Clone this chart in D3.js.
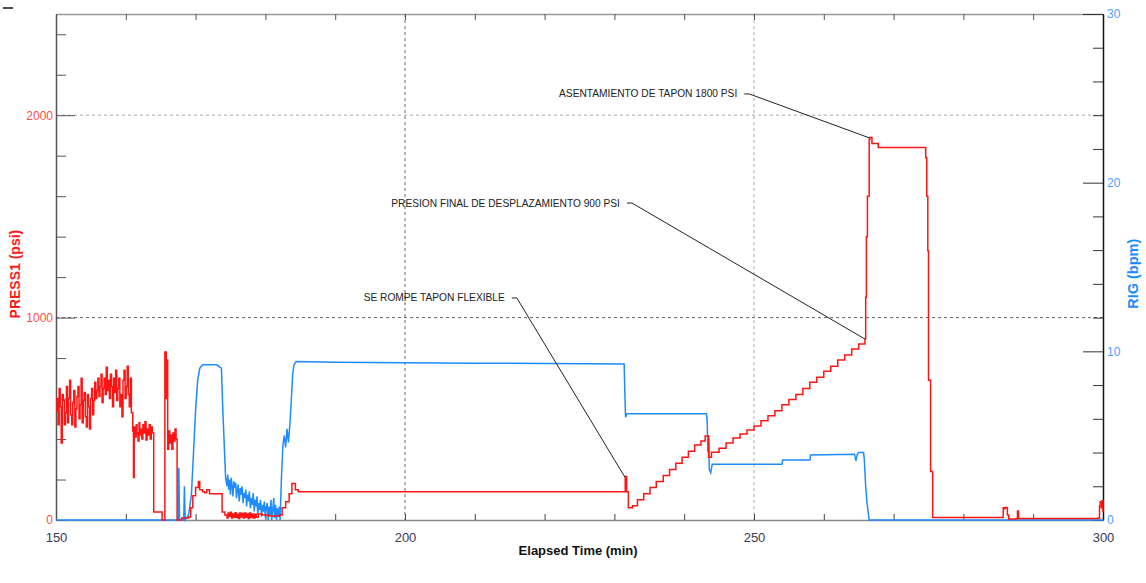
<!DOCTYPE html>
<html>
<head>
<meta charset="utf-8">
<script src="https://cdn.jsdelivr.net/npm/d3@7"></script>
<style>
  body { margin: 0; background: #fff; }
  svg { display: block; font-family: "Liberation Sans", Arial, sans-serif; }
</style>
</head>
<body>
<div class="chart"></div>
<script>

/** PRESS1 (psi) readings: [elapsed min, psi] */
let pressNoisy = [
  [150.00, 540], [150.15, 600], [150.30, 470], [150.45, 650], [150.60, 560], [150.75, 380], [150.90, 620], [151.05, 590],
  [151.20, 470], [151.35, 530], [151.50, 660], [151.65, 480], [151.80, 600], [151.95, 690], [152.10, 520], [152.25, 470],
  [152.40, 580], [152.55, 640], [152.70, 460], [152.85, 550], [153.00, 610], [153.15, 660], [153.30, 500], [153.45, 570],
  [153.60, 700], [153.75, 480], [153.90, 590], [154.05, 630], [154.20, 510], [154.35, 460], [154.50, 620], [154.65, 560],
  [154.80, 450], [154.95, 600], [155.10, 650], [155.25, 520], [155.40, 590], [155.55, 680], [155.70, 600], [155.85, 640],
  [156.00, 700], [156.15, 610], [156.30, 660], [156.45, 720], [156.60, 580], [156.75, 650], [156.90, 700], [157.05, 620],
  [157.20, 755], [157.35, 640], [157.50, 690], [157.65, 600], [157.80, 720], [157.95, 660], [158.10, 560], [158.25, 700],
  [158.40, 630], [158.55, 740], [158.70, 590], [158.85, 650], [159.00, 700], [159.15, 560], [159.30, 620], [159.45, 510],
  [159.60, 690], [159.75, 740], [159.90, 600], [160.05, 660], [160.20, 760], [160.35, 620], [160.50, 560], [160.65, 700],
  [160.80, 530]
];
let pressDrop = [
  [161.0, 440], [161.1, 210], [161.2, 460], [161.35, 410], [161.5, 470], [161.6, 430], [161.75, 390], [161.9, 480],
  [162.0, 420], [162.15, 450], [162.3, 400], [162.45, 470], [162.6, 430], [162.75, 485], [162.9, 395], [163.05, 450],
  [163.2, 420], [163.35, 470], [163.5, 400], [163.65, 460], [163.8, 430], [164.0, 40], [165.2, 0], [165.6, 830],
  [165.8, 600], [165.95, 790], [166.0, 350], [166.15, 440], [166.3, 380], [166.45, 420], [166.6, 350], [166.75, 430],
  [166.9, 390], [167.05, 450], [167.2, 400], [167.35, 0], [168.0, 10], [169.0, 15], [169.3, 60], [169.6, 120],
  [170.0, 160], [170.4, 190], [170.6, 150], [171.0, 140], [171.3, 135], [171.6, 150], [172.0, 130], [173.8, 40],
  [174.2, 25], [174.5, 10], [174.65, 35], [174.8, 18], [175.0, 38], [175.15, 10], [175.3, 30], [175.5, 14],
  [175.65, 36], [175.8, 12], [176.0, 28], [176.15, 8], [176.3, 35], [176.5, 15], [176.7, 32], [176.85, 10],
  [177.0, 34], [177.2, 14], [177.35, 30], [177.55, 8], [177.7, 35], [177.9, 12], [178.1, 30], [178.3, 10],
  [178.5, 28], [178.7, 14], [179.0, 30], [179.5, 25], [180.5, 20], [182.0, 25], [182.4, 60], [182.9, 90],
  [183.4, 130], [183.8, 180], [184.3, 150], [184.7, 140]
];
let pressRamp = [
  [231.4, 140], [231.55, 215], [231.75, 140], [232.0, 60], [232.6, 70], [233.3, 100], [234.2, 130], [235.1, 160],
  [236.0, 190], [237.0, 220], [237.9, 250], [238.8, 280], [239.7, 310], [240.6, 340], [241.5, 370], [242.4, 390],
  [243.0, 415], [243.5, 310], [243.9, 335], [245.0, 355], [246.0, 380], [247.0, 405], [248.0, 425], [249.0, 445],
  [250.0, 465], [251.0, 490], [252.0, 515], [253.0, 540], [254.0, 570], [255.0, 595], [256.0, 620], [257.0, 650],
  [258.0, 680], [259.0, 705], [260.0, 735], [261.0, 760], [262.0, 790], [263.0, 815], [264.0, 845], [265.0, 870],
  [265.9, 895]
];
let pressTail = [
  [266.0, 1100], [266.1, 1400], [266.25, 1600], [266.5, 1880], [266.6, 1890], [266.9, 1860], [267.8, 1840],
  [274.5, 1840], [274.6, 1790], [274.75, 1600], [274.9, 1330], [275.0, 690], [275.3, 240], [275.6, 12],
  [285.6, 12], [285.7, 60], [285.9, 55], [286.0, 62], [286.3, 25], [286.5, 5], [287.6, 8], [287.75, 45],
  [287.9, 8], [299.3, 10], [299.5, 70], [299.6, 90], [299.75, 60], [299.85, 95], [300.0, 40]
];

/** RIG (bpm) readings: [elapsed min, bpm] */
let rigStart = [
  [150, 0], [167.5, 0], [167.6, 3.1], [167.7, 0], [168.3, 0], [168.4, 2.0], [168.5, 0], [169.0, 0.3],
  [169.4, 1.5], [169.7, 4.0], [170.0, 6.5], [170.3, 8.3], [170.6, 9.0], [171.0, 9.2], [173.0, 9.2], [173.7, 9.0],
  [173.9, 6.5], [174.1, 4.5], [174.3, 2.5]
];
let rigNoisy = [
  [174.5, 2.0], [174.6, 2.7], [174.75, 1.8], [174.85, 2.4], [175.0, 1.5], [175.1, 2.5], [175.25, 2.0], [175.35, 1.4],
  [175.5, 2.3], [175.6, 1.9], [175.75, 2.2], [175.85, 1.3], [176.0, 1.8], [176.1, 2.1], [176.25, 1.1], [176.4, 1.9],
  [176.5, 1.5], [176.65, 2.0], [176.8, 1.0], [176.9, 1.6], [177.05, 1.3], [177.2, 1.8], [177.3, 0.8], [177.45, 1.5],
  [177.6, 1.1], [177.7, 1.7], [177.85, 0.7], [178.0, 1.3], [178.1, 0.9], [178.25, 1.6], [178.4, 0.5], [178.5, 1.2],
  [178.65, 0.8], [178.8, 1.4], [178.9, 0.3], [179.05, 1.0], [179.2, 0.6], [179.3, 1.2], [179.45, 0.2], [179.6, 0.9],
  [179.7, 0.5], [179.85, 1.1], [180.0, 0.1], [180.1, 0.7], [180.25, 1.0], [180.4, 0.0], [180.5, 0.8], [180.65, 0.3],
  [180.8, 1.2], [180.9, 0.0], [181.05, 0.6], [181.2, 1.3], [181.3, 0.1], [181.45, 0.9], [181.6, 0.0], [181.7, 0.7],
  [181.85, 0.2], [182.0, 0.8], [182.1, 0.0]
];
let rigRest = [
  [182.3, 2.5], [182.5, 4.4], [182.7, 5.0], [182.9, 4.3], [183.1, 5.4], [183.3, 4.6], [183.5, 5.6], [183.7, 7.0],
  [183.9, 8.6], [184.1, 9.2], [184.4, 9.4], [190, 9.35], [210, 9.3], [231.4, 9.25], [231.5, 7.5], [231.6, 6.1],
  [231.8, 6.3], [243.2, 6.3], [243.3, 5.8], [243.4, 4.0], [243.5, 5.0], [243.6, 3.0], [243.8, 2.8], [244.0, 3.3],
  [254.0, 3.3], [254.1, 3.55], [258.0, 3.55], [258.1, 3.85], [264.4, 3.9], [264.6, 3.5], [264.8, 3.9], [265.0, 4.0],
  [265.7, 4.0], [265.8, 3.6], [266.0, 2.0], [266.2, 1.0], [266.5, 0], [300, 0]
];

/** tick values */
let timeTicks = d3.range(150, 301, 10);
let timeLabels = [150, 200, 250, 300];
let pressTicks = d3.range(0, 2501, 200);
let pressLabels = [0, 1000, 2000];
let rigTicks = d3.range(0, 31, 2);
let rigLabels = [0, 10, 20, 30];

/** annotations: text end [t, psi], leader end [t, psi] */
let notes = [
  { text: 'ASENTAMIENTO DE TAPON 1800 PSI', at: [247.6, 2105], to: [266.6, 1887] },
  { text: 'PRESION FINAL DE DESPLAZAMIENTO 900 PSI', at: [230.8, 1566], to: [265.9, 894] },
  { text: 'SE ROMPE TAPON FLEXIBLE', at: [214.3, 1097], to: [231.5, 212] }
];

/** Set up canvas */
let width = 1146, height = 583;
let plot = { left: 56, right: 1103, top: 14, bottom: 520 };

let svg = d3.select('.chart').append('svg')
    .attr('width', width)
    .attr('height', height);

let xScale = d3.scaleLinear().domain([150, 300]).range([plot.left, plot.right]);
let yLeft = d3.scaleLinear().domain([0, 2500]).range([plot.bottom, plot.top]);
let yRight = d3.scaleLinear().domain([0, 30]).range([plot.bottom, plot.top]);

/** grid lines */
let grid = svg.append('g').attr('stroke-dasharray', '3,3').attr('stroke-width', 1);
[200, 250].forEach(function (t, i) {
    grid.append('line')
        .attr('x1', xScale(t)).attr('x2', xScale(t))
        .attr('y1', plot.top).attr('y2', plot.bottom)
        .attr('stroke', i == 0 ? '#666' : '#aaa');
});
[1000, 2000].forEach(function (p, i) {
    grid.append('line')
        .attr('x1', plot.left).attr('x2', plot.right)
        .attr('y1', yLeft(p)).attr('y2', yLeft(p))
        .attr('stroke', i == 0 ? '#666' : '#aaa');
});

/** axes */
let xAxis = d3.axisBottom(xScale)
    .tickValues(timeTicks)
    .tickSizeInner(-6).tickSizeOuter(0).tickPadding(13)
    .tickFormat(function (d) { return timeLabels.includes(d) ? d : ''; });
let xTop = d3.axisTop(xScale)
    .tickValues(timeTicks)
    .tickSizeInner(-6).tickSizeOuter(0)
    .tickFormat('');
let leftAxis = d3.axisLeft(yLeft)
    .tickValues(pressTicks)
    .tickSizeInner(-10).tickSizeOuter(0).tickPadding(3)
    .tickFormat(function (d) { return pressLabels.includes(d) ? d : ''; });
let rightAxis = d3.axisRight(yRight)
    .tickValues(rigTicks)
    .tickSizeInner(-10).tickSizeOuter(0).tickPadding(4)
    .tickFormat(function (d) { return rigLabels.includes(d) ? d : ''; });

let gx = svg.append('g').attr('transform', `translate(0, ${plot.bottom})`).call(xAxis);
gx.select('.domain').attr('stroke', '#888').attr('stroke-width', 1.5);
gx.selectAll('.tick line').attr('stroke', '#444');
gx.selectAll('.tick text').attr('fill', '#3a3a55').style('font-size', '13px');

let gt = svg.append('g').attr('transform', `translate(0, ${plot.top})`).call(xTop);
gt.select('.domain').attr('stroke', '#999').attr('stroke-width', 1.5);
gt.selectAll('.tick line').attr('stroke', '#555');

let gl = svg.append('g').attr('transform', `translate(${plot.left}, 0)`).call(leftAxis);
gl.select('.domain').attr('stroke', '#555').attr('stroke-width', 1.5);
gl.selectAll('.tick line')
    .attr('stroke', '#555')
    .attr('x2', function (d) { return d % 1000 == 0 && d > 0 ? 19 : 10; });
gl.selectAll('.tick text').attr('fill', '#ff4d4d').style('font-size', '12px');

let gr = svg.append('g').attr('transform', `translate(${plot.right}, 0)`).call(rightAxis);
gr.select('.domain').attr('stroke', '#111').attr('stroke-width', 1.5);
gr.selectAll('.tick line')
    .attr('stroke', '#333')
    .attr('x2', function (d) { return d % 10 == 0 && d > 0 ? -20 : -10; });
gr.selectAll('.tick text').attr('fill', '#4da0ff').style('font-size', '12px');

/** axis titles */
svg.append('text')
    .attr('transform', `translate(20, ${yLeft(1215)}) rotate(-90)`)
    .attr('text-anchor', 'middle')
    .style('font-size', '14px').style('font-weight', 'bold')
    .attr('fill', '#ff1a1a')
    .text('PRESS1 (psi)');

svg.append('text')
    .attr('transform', `translate(1138, ${yRight(14.6)}) rotate(-90)`)
    .attr('text-anchor', 'middle')
    .style('font-size', '14.5px').style('font-weight', 'bold')
    .attr('fill', '#1a8cff')
    .text('RIG (bpm)');

svg.append('text')
    .attr('x', xScale(224.8))
    .attr('y', 555)
    .attr('text-anchor', 'middle')
    .style('font-size', '13px').style('font-weight', 'bold')
    .attr('fill', '#111')
    .text('Elapsed Time (min)');

/** small mark at the top left corner */
svg.append('line')
    .attr('x1', 3).attr('x2', 13).attr('y1', 8).attr('y2', 8)
    .attr('stroke', '#111').attr('stroke-width', 1.5);

/** line generators */
let pressLine = d3.line()
    .x(function (d) { return xScale(d[0]); })
    .y(function (d) { return yLeft(d[1]); })
    .curve(d3.curveStepAfter);
let rigLine = d3.line()
    .x(function (d) { return xScale(d[0]); })
    .y(function (d) { return yRight(d[1]); });

let pressData = pressNoisy.concat(pressDrop, pressRamp, pressTail);
let rigData = rigStart.concat(rigNoisy, rigRest);

svg.append('path')
    .attr('d', rigLine(rigData))
    .attr('fill', 'none')
    .attr('stroke', '#1e8bff')
    .attr('stroke-width', 1.5);

svg.append('path')
    .attr('d', pressLine(pressData))
    .attr('fill', 'none')
    .attr('stroke', '#ff1414')
    .attr('stroke-width', 1.5);

/** annotations */
notes.forEach(function (n) {
    let tx = xScale(n.at[0]), ty = yLeft(n.at[1]);
    svg.append('text')
        .attr('x', tx).attr('y', ty + 3.5)
        .attr('text-anchor', 'end')
        .style('font-size', '10.2px')
        .attr('fill', '#222')
        .text(n.text);
    svg.append('polyline')
        .attr('points', [[tx + 7, ty], [tx + 12, ty], [xScale(n.to[0]), yLeft(n.to[1])]].join(' '))
        .attr('fill', 'none')
        .attr('stroke', '#222')
        .attr('stroke-width', 1);
});

</script>
</body>
</html>
